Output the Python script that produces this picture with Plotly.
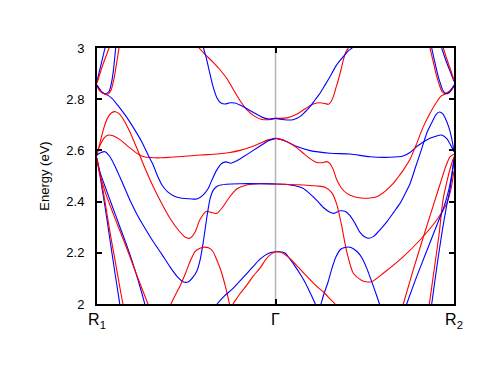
import plotly.graph_objects as go

# k-path distance (arb. units): R1 -> Gamma -> R2
K_TICKS = [0, 178.5, 357]
K_LABELS = ["R<sub>1</sub>", "Γ", "R<sub>2</sub>"]
E_RANGE = [2.0, 3.0]

# ---- left half (R1 -> Gamma) ----
kA = [102, 108, 116, 123, 130, 136, 143, 150, 157, 164, 171, 178.5]
eA = [3.0, 2.975, 2.945, 2.915, 2.88, 2.84, 2.795, 2.758, 2.735, 2.722, 2.72, 2.725]

kB = [106.5, 109, 112, 116, 120, 124, 128, 133, 138, 143, 150, 158, 165, 171, 178.5]
eB = [3.0, 2.965, 2.915, 2.85, 2.805, 2.785, 2.781, 2.786, 2.785, 2.777, 2.763, 2.745, 2.73, 2.723, 2.725]

kC = [0, 3, 7, 11.3, 16, 23, 31.3, 41.3, 48, 53, 63, 73, 88, 103, 120, 133, 143, 153, 163, 171, 178.5]
eC = [2.592, 2.62, 2.648, 2.66, 2.657, 2.642, 2.615, 2.585, 2.574, 2.572, 2.571, 2.573, 2.577, 2.582,
      2.586, 2.592, 2.60, 2.612, 2.628, 2.641, 2.647]

kD = [0, 3, 7, 11, 15, 18.5, 23, 31.3, 41.3, 48, 56, 64.7, 73, 81.3, 88, 93, 98, 103, 109.7, 114,
      119.7, 126, 133, 140, 149.7, 163, 178.5]
eD = [2.58, 2.63, 2.69, 2.73, 2.748, 2.751, 2.74, 2.686, 2.595, 2.53, 2.46, 2.393, 2.335, 2.289, 2.262,
      2.257, 2.28, 2.33, 2.362, 2.358, 2.354, 2.38, 2.42, 2.45, 2.465, 2.47, 2.469]

kF = [0, 4, 7, 11, 15, 19, 23, 30, 37, 44.7, 52, 56, 60, 65, 71, 78, 85, 93, 100, 106, 111, 115,
      119.7, 124.7, 129, 134, 140, 146.3, 156.3, 163, 171, 178.5]
eF = [2.855, 2.832, 2.822, 2.815, 2.803, 2.785, 2.765, 2.728, 2.685, 2.634, 2.575, 2.545, 2.505, 2.465,
      2.437, 2.42, 2.413, 2.411, 2.41, 2.425, 2.45, 2.485, 2.523, 2.549, 2.555, 2.55, 2.56, 2.575,
      2.60, 2.617, 2.637, 2.647]

kH = [0, 4, 8, 13, 18, 23, 28, 33, 40, 48, 56, 64.7, 73, 80, 86, 91, 96, 100, 103, 106.3, 109.7,
      113, 116.3, 121, 129.7, 143, 163, 178.5]
eH = [2.582, 2.592, 2.595, 2.575, 2.538, 2.495, 2.45, 2.405, 2.35, 2.296, 2.245, 2.195, 2.145, 2.108,
      2.087, 2.086, 2.105, 2.13, 2.17, 2.243, 2.335, 2.41, 2.445, 2.462, 2.468, 2.47, 2.47, 2.469]

kI = [72, 74, 79, 84, 89, 93, 98, 103, 108, 112, 116, 120, 124, 128, 130.5, 132.5, 134]
eI = [1.98, 2.0, 2.04, 2.078, 2.125, 2.165, 2.205, 2.218, 2.222, 2.219, 2.205, 2.17, 2.13, 2.075,
      2.035, 2.0, 1.97]

kJ = [118, 120, 127, 135, 143, 150, 157, 163, 168, 173, 178.5]
eJ = [1.99, 2.0, 2.03, 2.057, 2.09, 2.12, 2.15, 2.175, 2.19, 2.2, 2.204]

kK = [134, 136, 143, 150, 156, 163, 169, 174, 178.5]
eK = [1.99, 2.0, 2.04, 2.075, 2.108, 2.14, 2.175, 2.195, 2.204]

kS1 = [0, 3, 8, 13, 18, 22, 23.5]
eS1 = [2.57, 2.50, 2.38, 2.25, 2.12, 2.02, 1.98]
kS2 = [0, 3, 8, 13, 19, 24, 27]
eS2 = [2.57, 2.51, 2.40, 2.28, 2.15, 2.04, 1.98]
kS3 = [0, 3, 8, 15, 23, 31, 39, 45, 48.5]
eS3 = [2.56, 2.515, 2.46, 2.385, 2.30, 2.215, 2.12, 2.04, 1.99]
kS4 = [0, 3, 8, 15, 23, 31, 39, 46, 52]
eS4 = [2.56, 2.505, 2.44, 2.365, 2.285, 2.205, 2.12, 2.05, 1.99]

kT1 = [0, 4, 8, 9]
eT1 = [2.87, 2.935, 3.0, 3.02]
kT2 = [0, 5, 12, 13]
eT2 = [2.862, 2.925, 3.0, 3.015]
kU1 = [0, 3, 6, 9, 12, 14, 16, 18.7]
eU1 = [2.855, 2.835, 2.824, 2.822, 2.83, 2.855, 2.9, 3.0]
kU2 = [0, 3, 7, 11, 14, 17, 20, 22]
eU2 = [2.85, 2.832, 2.821, 2.82, 2.835, 2.88, 2.95, 3.0]

# ---- right half (Gamma -> R2) ----
kA2 = [178.5, 190, 199, 206.3, 212, 216.3, 223, 228, 231.3, 234, 236.3, 239, 241.3, 244, 246.3, 249, 251.3, 253]
eA2 = [2.725, 2.727, 2.74, 2.758, 2.772, 2.781, 2.786, 2.783, 2.78, 2.79, 2.81, 2.845, 2.875, 2.915,
       2.953, 2.985, 3.0, 3.01]

kB2 = [178.5, 183, 190, 196, 203, 208, 213, 218, 223, 228, 233, 239.7, 246.3, 251, 255, 257]
eB2 = [2.725, 2.722, 2.719, 2.72, 2.732, 2.75, 2.771, 2.797, 2.823, 2.855, 2.888, 2.934, 2.966, 2.988, 3.0, 3.01]

kG2 = [178.5, 184, 190, 200, 213, 233, 253, 273, 293, 306, 313, 319.7, 329.7, 338, 344.7, 350, 354, 357]
eG2 = [2.647, 2.643, 2.634, 2.615, 2.599, 2.589, 2.586, 2.575, 2.573, 2.578, 2.592, 2.615, 2.641,
       2.654, 2.66, 2.645, 2.618, 2.595]

kF2 = [178.5, 186, 193, 200, 206.3, 213, 219.7, 225, 229.7, 233, 236.3, 239.7, 244, 249.7, 258, 266.3,
       273, 279.7, 288, 296.3, 301, 306.3, 313, 319, 326, 333, 339, 344, 348, 352, 357]
eF2 = [2.647, 2.64, 2.628, 2.61, 2.589, 2.568, 2.553, 2.552, 2.556, 2.548, 2.525, 2.486, 2.455, 2.432,
       2.418, 2.413, 2.414, 2.419, 2.44, 2.471, 2.495, 2.523, 2.565, 2.62, 2.69, 2.745, 2.785, 2.812,
       2.82, 2.83, 2.85]

kD2 = [178.5, 188, 198, 206, 213, 220, 227, 233, 237, 243, 248, 253, 258, 263, 268, 272, 277, 283, 290,
       297, 303, 308, 313, 319, 325, 330, 335, 339, 342.5, 346, 350, 353, 355.5, 357]
eD2 = [2.469, 2.468, 2.462, 2.452, 2.43, 2.404, 2.375, 2.358, 2.354, 2.364, 2.362, 2.345, 2.315, 2.28,
       2.262, 2.257, 2.265, 2.29, 2.322, 2.36, 2.393, 2.43, 2.47, 2.54, 2.61, 2.67, 2.71, 2.74, 2.75,
       2.742, 2.71, 2.675, 2.63, 2.595]

kH2 = [178.5, 199.7, 219.7, 228, 234.7, 239.7, 244.7, 249.7, 256.3, 264.7, 269, 274.7, 286.3, 306.3,
       323, 339.7, 349.7, 354, 357]
eH2 = [2.469, 2.466, 2.461, 2.456, 2.435, 2.39, 2.305, 2.205, 2.12, 2.092, 2.087, 2.087, 2.12, 2.185,
       2.25, 2.328, 2.393, 2.45, 2.52]

kI2 = [222.5, 224, 227, 231, 235, 239, 244, 249, 254, 260, 265, 269.7, 274, 279, 282.5, 284]
eI2 = [1.98, 2.0, 2.04, 2.085, 2.14, 2.185, 2.215, 2.222, 2.221, 2.205, 2.18, 2.14, 2.095, 2.04, 2.0, 1.98]

kJ2 = [178.5, 183, 188, 193, 198, 203, 208, 213, 218, 219.5]
eJ2 = [2.204, 2.204, 2.199, 2.175, 2.148, 2.118, 2.085, 2.045, 2.003, 1.99]

kK2 = [178.5, 184, 189, 195, 201, 207, 213, 220, 227, 233, 238, 240]
eK2 = [2.204, 2.202, 2.19, 2.17, 2.145, 2.12, 2.095, 2.068, 2.045, 2.02, 2.0, 1.99]

kS1b = [334, 334.7, 340, 345, 349, 353, 355.5, 357]
eS1b = [1.985, 2.0, 2.15, 2.28, 2.37, 2.45, 2.52, 2.57]
kS2b = [331.5, 332.3, 337, 342, 346, 350, 354, 357]
eS2b = [1.985, 2.0, 2.13, 2.27, 2.406, 2.48, 2.54, 2.575]
kS3b = [308.5, 309.7, 319, 329, 339, 347, 352, 355, 357]
eS3b = [1.985, 2.0, 2.1, 2.2, 2.3, 2.38, 2.45, 2.51, 2.565]
kS4b = [305, 306.3, 316, 327, 338, 344, 349, 353, 357]
eS4b = [1.985, 2.0, 2.13, 2.27, 2.406, 2.48, 2.54, 2.575, 2.585]

kU1b = [333, 336, 339, 342, 345, 348, 352, 357]
eU1b = [3.0, 2.95, 2.9, 2.86, 2.83, 2.821, 2.825, 2.85]
kU2b = [334.7, 337.5, 340.5, 343.5, 346.5, 349.5, 353, 357]
eU2b = [3.0, 2.95, 2.9, 2.86, 2.83, 2.822, 2.83, 2.855]
kT1b = [344.7, 349, 353, 357]
eT1b = [3.0, 2.95, 2.91, 2.87]
kT2b = [346.3, 350, 354, 357]
eT2b = [3.0, 2.955, 2.91, 2.875]

RED = "#ff0000"
BLUE = "#0000ff"

bands = [
    (kA, eA, RED), (kB, eB, BLUE), (kC, eC, RED), (kD, eD, RED), (kF, eF, BLUE), (kH, eH, BLUE),
    (kI, eI, RED), (kJ, eJ, BLUE), (kK, eK, RED),
    (kS1, eS1, BLUE), (kS2, eS2, RED), (kS3, eS3, BLUE), (kS4, eS4, RED),
    (kT1, eT1, BLUE), (kT2, eT2, RED), (kU1, eU1, BLUE), (kU2, eU2, RED),
    (kA2, eA2, RED), (kB2, eB2, BLUE), (kG2, eG2, BLUE), (kF2, eF2, RED), (kD2, eD2, BLUE),
    (kH2, eH2, RED), (kI2, eI2, BLUE), (kJ2, eJ2, BLUE), (kK2, eK2, RED),
    (kS1b, eS1b, BLUE), (kS2b, eS2b, RED), (kS3b, eS3b, BLUE), (kS4b, eS4b, RED),
    (kU1b, eU1b, RED), (kU2b, eU2b, BLUE), (kT1b, eT1b, BLUE), (kT2b, eT2b, RED),
]

fig = go.Figure()
for k, e, c in bands:
    fig.add_trace(go.Scatter(x=k, y=e, mode="lines",
                             line=dict(color=c, width=1.1, shape="spline", smoothing=0.7),
                             hoverinfo="skip", showlegend=False))

fig.add_vline(x=K_TICKS[1], line=dict(color="#b4b4b4", width=1.5), layer="below")

FONT = "Liberation Sans, Arial, sans-serif"
# the page body adds an 8px offset, so the figure is 8px smaller and margins shifted
fig.update_layout(
    width=488, height=363,
    margin=dict(l=89, r=42, t=40, b=67),
    plot_bgcolor="white", paper_bgcolor="white",
    font=dict(family=FONT, color="black"),
    showlegend=False,
)
fig.update_xaxes(
    range=[K_TICKS[0], K_TICKS[-1]], tickvals=K_TICKS, ticktext=K_LABELS,
    showline=True, linewidth=2, linecolor="black", mirror="ticks",
    ticks="inside", ticklen=5, tickwidth=1.5, tickcolor="black",
    showgrid=False, zeroline=False, tickfont=dict(size=16, family=FONT),
)
fig.update_yaxes(
    range=E_RANGE, dtick=0.2, tick0=2.0,
    showline=True, linewidth=2, linecolor="black", mirror="ticks",
    ticks="inside", ticklen=5, tickwidth=1.5, tickcolor="black",
    showgrid=False, zeroline=False, tickfont=dict(size=13, family=FONT),
    ticklabelstandoff=8,
    title=dict(text="Energy (eV)", font=dict(size=13, family=FONT), standoff=14),
)

fig.write_html("out.html")
